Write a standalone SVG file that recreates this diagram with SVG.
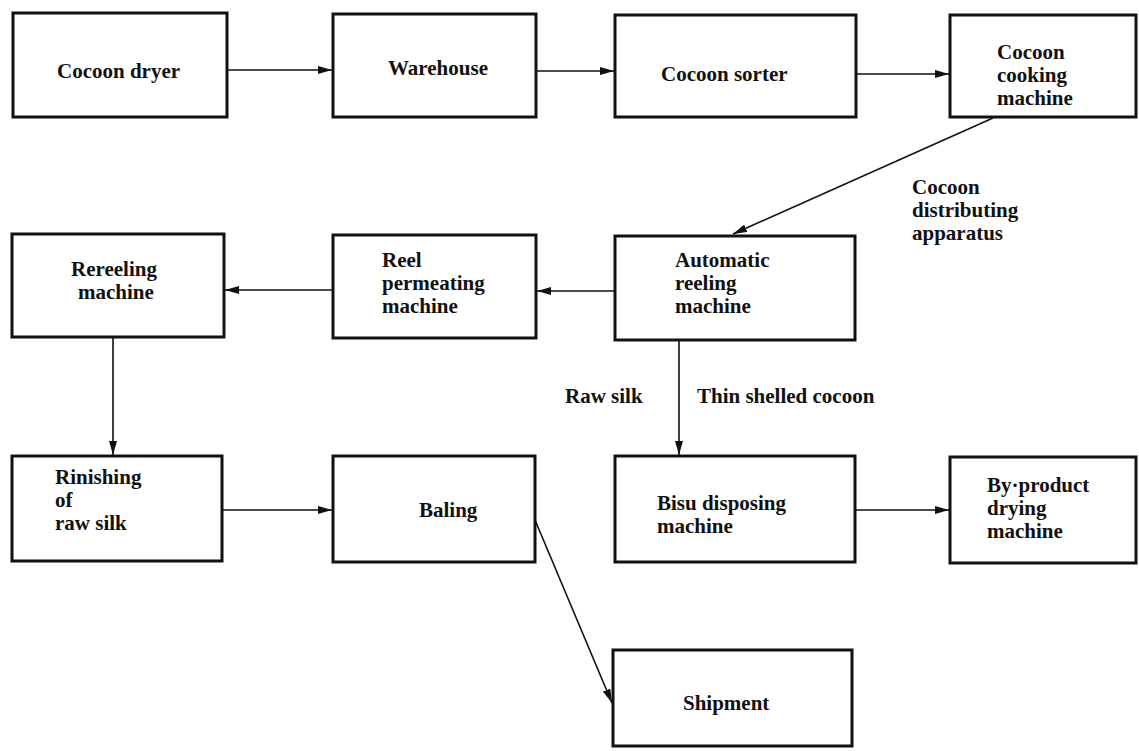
<svg xmlns="http://www.w3.org/2000/svg" width="1139" height="751" viewBox="0 0 1139 751">
<style>
.box{fill:none;stroke:#111;stroke-width:3}
.t{font-family:"Liberation Serif","Times New Roman",serif;font-size:21px;font-weight:bold;fill:#111}
.c{stroke:#111;stroke-width:1.6;fill:none;marker-end:url(#ah)}
</style>
<defs>
<marker id="ah" viewBox="0 0 14 8" refX="14" refY="4" markerWidth="14" markerHeight="8" markerUnits="userSpaceOnUse" orient="auto">
<path d="M0,0 L14,4 L0,8 Z" fill="#111"/>
</marker>
</defs>
<rect width="1139" height="751" fill="#fff"/>
<g id="connectors">
<line class="c" x1="227" y1="70" x2="332" y2="70"/>
<line class="c" x1="536" y1="71" x2="614" y2="71"/>
<line class="c" x1="856" y1="74" x2="949" y2="74"/>
<line class="c" x1="993" y1="118" x2="733" y2="234"/>
<line class="c" x1="615" y1="291" x2="537" y2="291"/>
<line class="c" x1="333" y1="290" x2="225" y2="290"/>
<line class="c" x1="113" y1="338" x2="113" y2="455"/>
<line class="c" x1="679" y1="341" x2="679" y2="455"/>
<line class="c" x1="222" y1="510" x2="332" y2="510"/>
<line class="c" x1="855" y1="510" x2="949" y2="510"/>
<line class="c" x1="535" y1="520" x2="612" y2="703"/>
</g>
<g id="cocoon-dryer"><rect class="box" x="13" y="13" width="214" height="104"/><text class="t" x="57" y="78">Cocoon dryer</text></g>
<g id="warehouse"><rect class="box" x="333" y="14" width="203" height="103"/><text class="t" x="388" y="75">Warehouse</text></g>
<g id="cocoon-sorter"><rect class="box" x="615" y="15" width="241" height="102"/><text class="t" x="661" y="81">Cocoon sorter</text></g>
<g id="cocoon-cooking"><rect class="box" x="950" y="15" width="186" height="102"/><text class="t" x="997" y="59">Cocoon</text><text class="t" x="997" y="82">cooking</text><text class="t" x="997" y="105">machine</text></g>
<g id="cocoon-distributing"><text class="t" x="912" y="194">Cocoon</text><text class="t" x="912" y="217">distributing</text><text class="t" x="912" y="240">apparatus</text></g>
<g id="rereeling"><rect class="box" x="12" y="234" width="212" height="103"/><text class="t" x="71" y="276">Rereeling</text><text class="t" x="78" y="299">machine</text></g>
<g id="reel-permeating"><rect class="box" x="333" y="235" width="203" height="103"/><text class="t" x="382" y="267">Reel</text><text class="t" x="382" y="290">permeating</text><text class="t" x="382" y="313">machine</text></g>
<g id="automatic-reeling"><rect class="box" x="615" y="236" width="240" height="104"/><text class="t" x="675" y="267">Automatic</text><text class="t" x="675" y="290">reeling</text><text class="t" x="675" y="313">machine</text></g>
<g id="labels"><text class="t" x="565" y="403">Raw silk</text><text class="t" x="697" y="403">Thin shelled cocoon</text></g>
<g id="rinishing"><rect class="box" x="12" y="456" width="210" height="105"/><text class="t" x="55" y="484">Rinishing</text><text class="t" x="55" y="507">of</text><text class="t" x="55" y="530">raw silk</text></g>
<g id="baling"><rect class="box" x="333" y="456" width="202" height="106"/><text class="t" x="419" y="517">Baling</text></g>
<g id="bisu"><rect class="box" x="615" y="456" width="240" height="106"/><text class="t" x="657" y="510">Bisu disposing</text><text class="t" x="657" y="533">machine</text></g>
<g id="by-product"><rect class="box" x="950" y="457" width="186" height="106"/><text class="t" x="987" y="492">By·product</text><text class="t" x="987" y="515">drying</text><text class="t" x="987" y="538">machine</text></g>
<g id="shipment"><rect class="box" x="613" y="650" width="239" height="96"/><text class="t" x="683" y="710">Shipment</text></g>
</svg>
